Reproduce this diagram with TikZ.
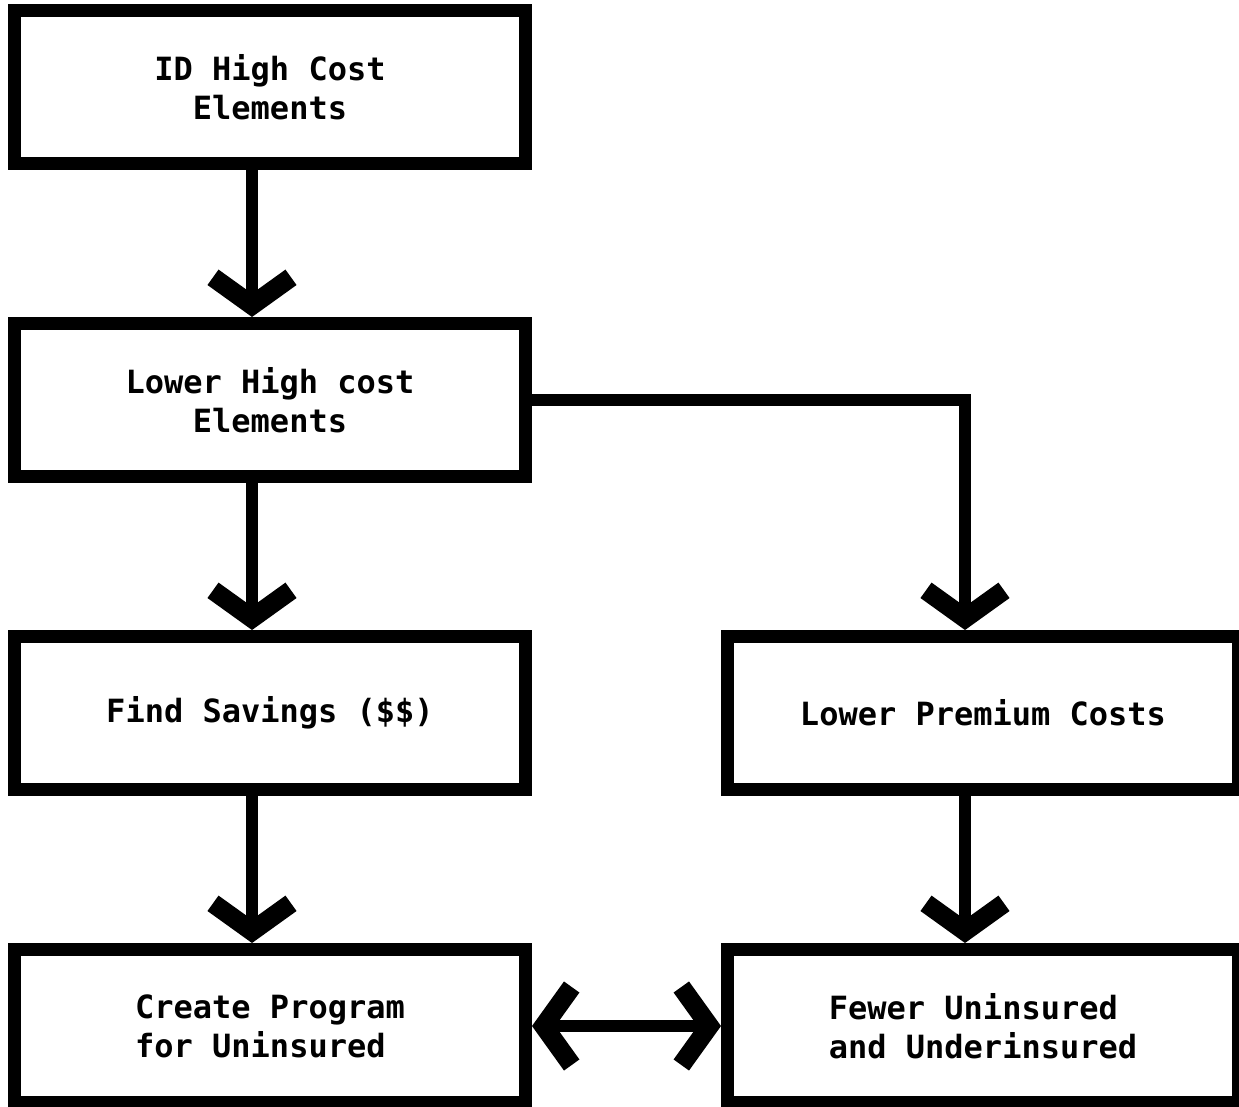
\documentclass[tikz,border=0pt]{standalone}
\usepackage{fontspec}
\usepackage{tikz}
\usetikzlibrary{arrows.meta,positioning}
\newfontfamily\chartfont{DejaVu Sans Mono}

\begin{document}
\begin{tikzpicture}[
  x=1pt,y=-1pt,
  node distance=147pt and 189pt,
  chev/.tip={Straight Barb[sharp,length=28pt,width=78pt,line width=19pt]},
  costbox/.style={draw=black,line width=13pt,minimum width=511pt,
    minimum height=153pt,align=center,
    font=\chartfont\bfseries\fontsize{32}{39}\selectfont},
  flow/.style={line width=12pt,-chev},
  twoway/.style={line width=12pt,chev-chev}
]
\useasboundingbox (0,0) rectangle (1239,1107);
\node[costbox] (identify) at (270,87) {ID High Cost\\Elements};
\node[costbox,below=of identify] (lower) {Lower High cost\\Elements};
\node[costbox,below=of lower] (savings) {Find Savings (\$\$)};
\node[costbox,right=of savings] (premium) {Lower Premium Costs};
\node[costbox,below=of savings,align=left] (program) {Create Program\\for Uninsured};
\node[costbox,below=of premium,align=left] (fewer) {Fewer Uninsured\\and Underinsured};
\draw[flow] ([xshift=-18pt]identify.south) -- ([xshift=-18pt]lower.north);
\draw[flow] ([xshift=-18pt]lower.south) -- ([xshift=-18pt]savings.north);
\draw[flow] ([xshift=-18pt]savings.south) -- ([xshift=-18pt]program.north);
\draw[flow] (lower.east) -| ([xshift=-18pt]premium.north);
\draw[flow] ([xshift=-18pt]premium.south) -- ([xshift=-18pt]fewer.north);
\draw[twoway] (program) -- (fewer);
\end{tikzpicture}
\end{document}
